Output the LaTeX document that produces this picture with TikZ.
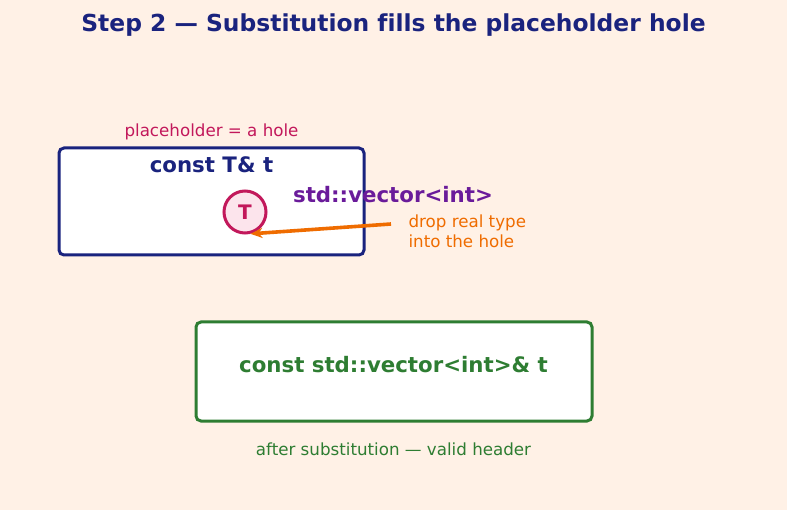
\documentclass[tikz,border=0pt]{standalone}
\usepackage{fontspec}
\setmainfont{DejaVu Sans}[Ligatures=NoCommon]
\usepackage{xcolor}
\usetikzlibrary{arrows.meta}

\definecolor{bgpeach}{HTML}{FFF1E6}
\definecolor{navy}{HTML}{1A237E}
\definecolor{crimson}{HTML}{C2185B}
\definecolor{holepink}{HTML}{FCE4EC}
\definecolor{plum}{HTML}{6A1B9A}
\definecolor{tangerine}{HTML}{EF6C00}
\definecolor{leaf}{HTML}{2E7D32}

\tikzset{
    box/.style={rectangle,draw,fill=white,line width=3pt,rounded corners=5pt},
    code/.style={font=\fontsize{21.3}{25}\selectfont\bfseries},
    note/.style={font=\fontsize{16.7}{20}\selectfont}
}

\begin{document}
\begin{tikzpicture}[x=1pt,y=-1pt]
            \fill[bgpeach] (0, 0) rectangle (787, 510);
            \useasboundingbox (0, 0) rectangle (787, 510);

            \node[font=\fontsize{23.4}{28}\selectfont\bfseries,text=navy] (title) at (393.5, 25) {Step 2 — Substitution fills the placeholder hole};

            \node[box,draw=navy,minimum width=305pt,minimum height=107pt] (tmpl) at (211.5, 201.5) {};
            \node[note,text=crimson] (phlabel) at (211.5, 132) {placeholder = a hole};
            \node[code,text=navy] (decl) at (211.5, 165) {const T\& t};
            \node[circle,draw=crimson,fill=holepink,line width=3pt,minimum size=42pt,inner sep=0pt,
                  font=\fontsize{20}{23}\selectfont\bfseries,text=crimson] (hole) at (245, 212) {T};

            \node[code,text=plum] (realtype) at (393, 195) {std::vector<int>};
            \node[note,text=tangerine,align=left,anchor=west] (drop) at (405, 231) {drop real type\\into the hole};
            \coordinate (src) at (391, 224);

            \draw [-{Stealth[length=12pt,width=10pt]},tangerine,line width=3.6pt](src) -- (hole.-76);

            \node[box,draw=leaf,minimum width=396pt,minimum height=99pt] (result) at (394, 371.5) {};
            \node[code,text=leaf] (header) at (393.5, 365) {const std::vector<int>\& t};
            \node[note,text=leaf] (afterlabel) at (393.5, 449) {after substitution — valid header};
        \end{tikzpicture}
\end{document}
